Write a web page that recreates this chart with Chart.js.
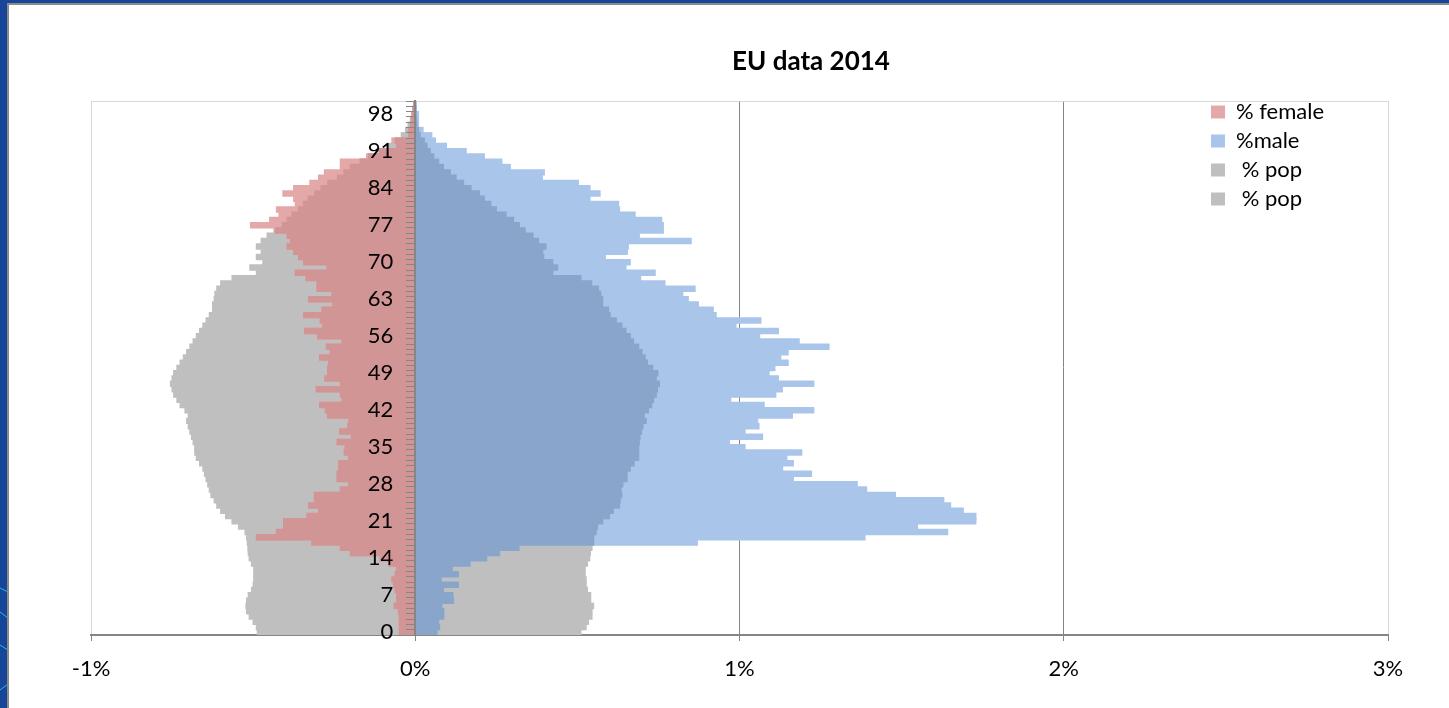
<!DOCTYPE html>
<html>
<head>
<meta charset="utf-8">
<script src="https://cdn.jsdelivr.net/npm/chart.js@4/dist/chart.umd.min.js"></script>
<style>
  html, body { margin: 0; padding: 0; }
  body { width: 1449px; height: 708px; background: #17459A; position: relative; overflow: hidden; }
  #deco { position: absolute; left: 0; top: 0; }
  #frame { position: absolute; left: 7px; top: 3px; width: 1442px; height: 705px; box-sizing: border-box;
           background: #fff; border-left: 2px solid #8a8a8a; border-top: 2px solid #8a8a8a; }
  #c { position: absolute; left: 0; top: 0; }
</style>
</head>
<body>
<svg id="deco" width="8" height="708">
  <path d="M0 588 L8 592" stroke="#2fb8e8" stroke-width="1" fill="none"/>
  <path d="M0 612 L8 618" stroke="#2fb8e8" stroke-width="1" fill="none"/>
  <path d="M0 645 L8 650" stroke="#2fb8e8" stroke-width="1" fill="none"/>
  <path d="M0 690 L8 684" stroke="#2fb8e8" stroke-width="1" fill="none"/>
</svg>
<div id="frame"><canvas id="c" width="1440" height="703"></canvas></div>
<script>
// ---- data (ages 0..100, values in % of population) ----
const ages = Array.from({length: 101}, (_, i) => String(i));
const titleText = 'EU data 2014';
const xTickValues = [-1, 0, 1, 2, 3];

const femalePct = [
  -0.049,-0.049,-0.049,-0.049,-0.052,-0.065,-0.057,-0.057,-0.062,-0.067,
  -0.072,-0.062,-0.057,-0.082,-0.108,-0.200,-0.231,-0.319,-0.490,-0.428,
  -0.406,-0.406,-0.334,-0.298,-0.329,-0.311,-0.311,-0.231,-0.205,-0.241,
  -0.241,-0.236,-0.236,-0.205,-0.219,-0.216,-0.241,-0.197,-0.233,-0.208,
  -0.205,-0.270,-0.277,-0.295,-0.226,-0.231,-0.305,-0.231,-0.279,-0.270,
  -0.270,-0.267,-0.295,-0.262,-0.274,-0.226,-0.301,-0.341,-0.285,-0.293,
  -0.344,-0.288,-0.254,-0.329,-0.257,-0.303,-0.303,-0.337,-0.370,-0.272,
  -0.344,-0.360,-0.375,-0.395,-0.385,-0.395,-0.431,-0.508,-0.449,-0.420,
  -0.428,-0.370,-0.375,-0.408,-0.375,-0.325,-0.298,-0.280,-0.231,-0.231,
  -0.150,-0.110,-0.057,-0.072,-0.020,-0.020,-0.015,-0.012,-0.010,-0.008,
  -0.005
];
const malePct = [
  0.067,0.075,0.072,0.088,0.088,0.082,0.118,0.116,0.087,0.133,
  0.080,0.133,0.114,0.169,0.220,0.260,0.320,0.870,1.387,1.642,
  1.549,1.729,1.729,1.690,1.651,1.630,1.481,1.392,1.363,1.166,
  1.222,1.133,1.166,1.146,1.192,1.017,0.969,1.071,1.017,1.060,
  1.056,1.163,1.229,1.076,0.973,1.112,1.132,1.229,1.120,1.091,
  1.109,1.150,1.127,1.150,1.276,1.184,1.062,1.120,0.989,1.066,
  0.928,0.919,0.873,0.842,0.825,0.863,0.770,0.695,0.740,0.650,
  0.663,0.586,0.654,0.657,0.851,0.691,0.765,0.765,0.760,0.678,
  0.630,0.627,0.539,0.570,0.539,0.503,0.392,0.398,0.293,0.267,
  0.213,0.157,0.096,0.062,0.051,0.024,0.010,0.010,0.010,0.003,
  0.002
];
const femalePop = [
  -0.487,-0.490,-0.500,-0.512,-0.520,-0.522,-0.520,-0.515,-0.505,-0.500,
  -0.498,-0.498,-0.498,-0.505,-0.512,-0.515,-0.516,-0.518,-0.520,-0.525,
  -0.545,-0.565,-0.585,-0.600,-0.612,-0.620,-0.630,-0.635,-0.640,-0.645,
  -0.650,-0.655,-0.665,-0.675,-0.680,-0.680,-0.685,-0.690,-0.695,-0.700,
  -0.705,-0.700,-0.710,-0.725,-0.735,-0.745,-0.750,-0.755,-0.750,-0.745,
  -0.735,-0.725,-0.715,-0.705,-0.695,-0.685,-0.675,-0.665,-0.655,-0.645,
  -0.635,-0.625,-0.625,-0.620,-0.618,-0.612,-0.600,-0.565,-0.490,-0.510,
  -0.470,-0.490,-0.475,-0.490,-0.475,-0.457,-0.436,-0.410,-0.395,-0.380,
  -0.360,-0.345,-0.330,-0.310,-0.290,-0.270,-0.240,-0.220,-0.200,-0.170,
  -0.144,-0.115,-0.087,-0.062,-0.043,-0.030,-0.022,-0.015,-0.010,-0.006,
  -0.004
];
const malePop = [
  0.511,0.527,0.534,0.545,0.545,0.550,0.541,0.541,0.531,0.527,
  0.527,0.524,0.524,0.531,0.538,0.540,0.545,0.550,0.550,0.558,
  0.562,0.578,0.599,0.611,0.630,0.632,0.637,0.635,0.640,0.653,
  0.653,0.663,0.675,0.689,0.689,0.689,0.691,0.693,0.698,0.702,
  0.712,0.706,0.719,0.729,0.735,0.743,0.747,0.753,0.743,0.748,
  0.732,0.716,0.709,0.699,0.689,0.673,0.663,0.650,0.637,0.620,
  0.601,0.596,0.578,0.578,0.572,0.565,0.544,0.511,0.424,0.439,
  0.424,0.396,0.393,0.403,0.380,0.363,0.339,0.321,0.303,0.280,
  0.250,0.233,0.213,0.198,0.172,0.149,0.126,0.108,0.087,0.072,
  0.057,0.046,0.036,0.028,0.015,0.010,0.005,0.004,0.003,0.002,
  0.001
];

// overlap of the semi-transparent series with the grey population series
const femaleOverlap = femalePct.map((v, i) => Math.max(v, femalePop[i]));
const maleOverlap = malePct.map((v, i) => Math.min(v, malePop[i]));

const FONT = 'Lato, "Liberation Sans", sans-serif';
const AXIS_GRAY = '#868686';
const LIGHT_GRAY = '#D9D9D9';

const extras = {
  id: 'extras',
  afterLayout(chart) {
    const lg = chart.legend;
    if (!lg) return;
    const w = lg.width, h = lg.height;
    lg.left = 1195; lg.top = 89;
    lg.right = lg.left + w; lg.bottom = lg.top + h;
  },
  beforeDatasetsDraw(chart) {
    const {ctx, chartArea: a} = chart;
    ctx.save();
    ctx.strokeStyle = LIGHT_GRAY;
    ctx.lineWidth = 1;
    ctx.beginPath();
    ctx.moveTo(a.left, a.top + 0.5);
    ctx.lineTo(a.right, a.top + 0.5);
    ctx.stroke();
    ctx.restore();
  },
  afterDraw(chart) {
    const ctx = chart.ctx;
    ctx.save();
    ctx.font = 'bold 26px ' + FONT;
    ctx.fillStyle = '#000';
    ctx.textAlign = 'center';
    ctx.textBaseline = 'middle';
    ctx.fillText(titleText, 802, 57);
    ctx.restore();
  }
};

const barCommon = { barPercentage: 1, categoryPercentage: 1, grouped: false, borderWidth: 0, inflateAmount: 0.6 };

new Chart(document.getElementById('c'), {
  type: 'bar',
  data: {
    labels: ages,
    datasets: [
      Object.assign({ label: 'female overlap', data: femaleOverlap, backgroundColor: '#D29595' }, barCommon),
      Object.assign({ label: 'male overlap', data: maleOverlap, backgroundColor: '#89A5CA' }, barCommon),
      Object.assign({ label: '% female', data: femalePct, backgroundColor: '#E4A8A8' }, barCommon),
      Object.assign({ label: '%male', data: malePct, backgroundColor: '#A9C5EA' }, barCommon),
      Object.assign({ label: ' % pop', data: femalePop, backgroundColor: '#BFBFBF' }, barCommon),
      Object.assign({ label: ' % pop', data: malePop, backgroundColor: '#BFBFBF' }, barCommon)
    ]
  },
  options: {
    indexAxis: 'y',
    responsive: false,
    animation: false,
    devicePixelRatio: 1,
    layout: { padding: { left: 82, right: 61, top: 96, bottom: 23 } },
    scales: {
      x: {
        type: 'linear', min: -1, max: 3,
        afterBuildTicks(scale) { scale.ticks = xTickValues.map(v => ({ value: v })); },
        afterFit(scale) { scale.height = 50; },
        ticks: { callback: v => v + '%', font: { family: FONT, size: 22 }, color: '#000', padding: 15 },
        grid: {
          color: ctx => (ctx.tick && (ctx.tick.value === -1 || ctx.tick.value === 3)) ? LIGHT_GRAY : AXIS_GRAY,
          tickColor: AXIS_GRAY, tickLength: 6, lineWidth: 1
        },
        border: { color: AXIS_GRAY, width: 2 }
      },
      y: {
        type: 'category', reverse: true, position: { x: 0 }, offset: true,
        ticks: {
          autoSkip: false,
          callback: (v, i) => (i % 7 === 0 ? ages[i] + '\u2003\u2009\u2009' : ''),
          font: { family: FONT, size: 22 }, color: '#000', padding: 17, z: 1
        },
        grid: { drawOnChartArea: false, drawTicks: true, tickLength: 8, color: AXIS_GRAY, z: 1, offset: true },
        border: { color: AXIS_GRAY, width: 2, z: 1 }
      }
    },
    plugins: {
      title: { display: false },
      tooltip: { enabled: false },
      legend: {
        position: 'chartArea', align: 'start',
        labels: {
          boxWidth: 14, boxHeight: 13, padding: 7, font: { family: FONT, size: 22 }, color: '#000',
          filter: item => item.datasetIndex >= 2
        }
      }
    }
  },
  plugins: [extras]
});
</script>
</body>
</html>
